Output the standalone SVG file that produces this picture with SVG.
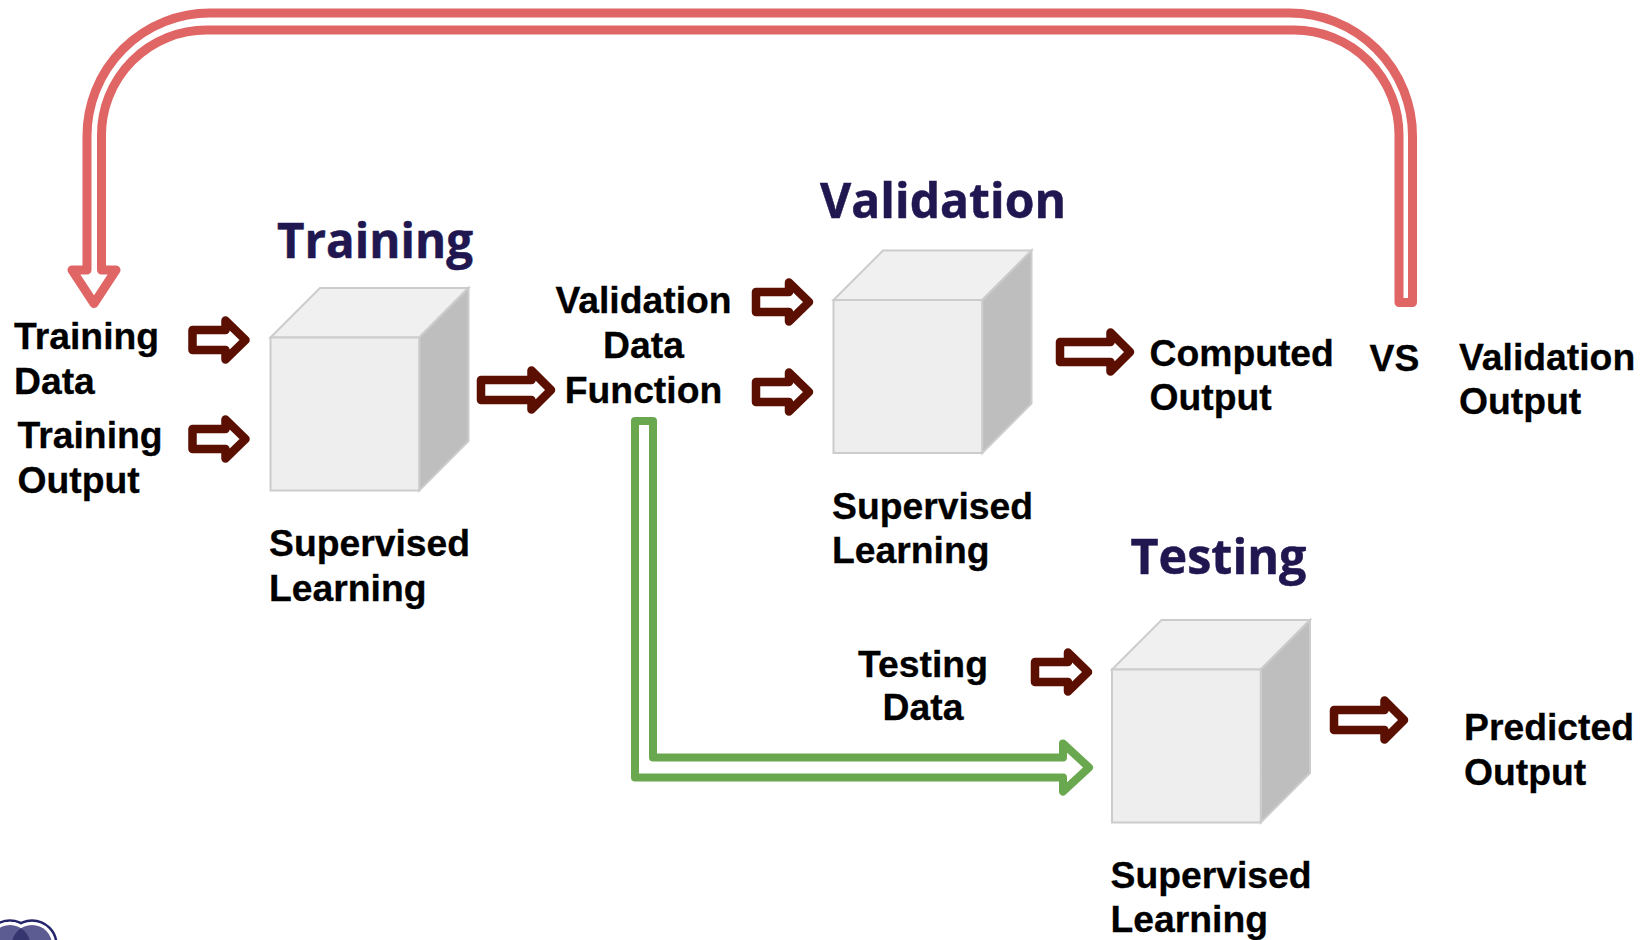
<svg xmlns="http://www.w3.org/2000/svg" width="1643" height="940" viewBox="0 0 1643 940">
<style>
text{font-family:"Liberation Sans",Arial,sans-serif;font-weight:700;font-size:37.3px;fill:#000;stroke:#000;stroke-width:.3}
text.t{font-family:"Open Sans","Noto Sans",sans-serif;font-size:48.4px;fill:#201650;stroke:#201650;stroke-width:.5}
.m{text-anchor:middle}
.a{fill:#fff;stroke:#5a0f00;stroke-width:8.5;stroke-linejoin:round}
.f{fill:#eee;stroke:#ccc;stroke-width:2}
.tp{fill:#f0f0f0;stroke:#ccc;stroke-width:2}
.s{fill:#bebebe;stroke:#ccc;stroke-width:2}
</style>
<defs>
<path id="sa" class="a" d="M0,-10H33V-19.5L53,0L33,19.5V10H0Z"/>
<path id="la" class="a" d="M0,-10H50.5V-19.5L70,0L50.5,19.5V10H0Z"/>
<g id="cube">
<path class="tp" d="M0,49.5L49.5,0H198L148.7,49.5Z"/>
<path class="s" d="M148.7,49.5L198,0V153L148.7,202.5Z"/>
<rect class="f" x="0" y="49.5" width="148.7" height="153"/>
</g>
</defs>
<g id="connectors">
<path id="feedback" fill="#fff" stroke="#e06666" stroke-width="9" stroke-linejoin="round" d="M101.5,270V136A105,105 0 0 1 206.5,30H1294A105,105 0 0 1 1399,135V302.5H1412.5V136A123,123 0 0 0 1289.5,13H210A123,123 0 0 0 87,136V270H72L94,303.5L116,270Z"/>
<path id="to-testing" fill="#fff" stroke="#6aa84f" stroke-width="8" stroke-linejoin="round" d="M635,421H653V757.5H1063V743.5L1089,767.5L1063,791.5V777.5H635Z"/>
<use href="#sa" x="192.5" y="340"/>
<use href="#sa" x="192.5" y="439"/>
<use href="#la" x="481" y="390"/>
<use href="#sa" x="756" y="302"/>
<use href="#sa" x="756" y="392"/>
<use href="#la" x="1060" y="352"/>
<use href="#sa" x="1035" y="672"/>
<use href="#la" x="1334" y="720"/>
</g>
<g id="training"><use href="#cube" x="270.5" y="288"/>
<text class="t" x="277" y="258" textLength="196" lengthAdjust="spacingAndGlyphs">Training</text>
<text x="269" y="556">Supervised</text><text x="269" y="601">Learning</text></g>
<g id="validation"><use href="#cube" x="833.5" y="250.5"/>
<text class="t" x="820" y="218" textLength="246" lengthAdjust="spacingAndGlyphs">Validation</text>
<text x="832" y="519">Supervised</text><text x="832" y="563">Learning</text></g>
<g id="testing"><use href="#cube" x="1112" y="620"/>
<text class="t" x="1130.5" y="574" textLength="176" lengthAdjust="spacingAndGlyphs">Testing</text>
<text x="1110.5" y="887.5">Supervised</text><text x="1110.5" y="932">Learning</text></g>
<g id="training-data"><text x="14" y="349">Training</text><text x="14" y="394">Data</text></g>
<g id="training-output"><text x="17.5" y="447.5">Training</text><text x="17.5" y="492.5">Output</text></g>
<g id="validation-data-function"><text class="m" x="643.5" y="313">Validation</text><text class="m" x="643.5" y="358">Data</text><text class="m" x="643.5" y="403">Function</text></g>
<g id="computed-output"><text x="1149.5" y="365.5">Computed</text><text x="1149.5" y="410">Output</text></g>
<g id="vs"><text x="1369.5" y="370.5">VS</text></g>
<g id="validation-output"><text x="1459" y="370">Validation</text><text x="1459" y="414">Output</text></g>
<g id="testing-data"><text class="m" x="923" y="676.5">Testing</text><text class="m" x="923" y="719.5">Data</text></g>
<g id="predicted-output"><text x="1464" y="740">Predicted</text><text x="1464" y="785">Output</text></g>
<g id="logo">
<circle cx="10" cy="945" r="24.5" fill="#fff" stroke="#24246a" stroke-width="2.5"/>
<circle cx="32" cy="945" r="24.5" fill="#fff" stroke="#24246a" stroke-width="2.5"/>
<circle cx="10" cy="945" r="23.2" fill="#fff"/>
<circle cx="10" cy="945" r="20" fill="#5c5c92"/>
<circle cx="32" cy="945" r="20" fill="#5c5c92"/>
<path fill="#35356f" d="M21,928.3A20,20 0 0 1 30,945H12A20,20 0 0 1 21,928.3Z"/>
</g>
</svg>
